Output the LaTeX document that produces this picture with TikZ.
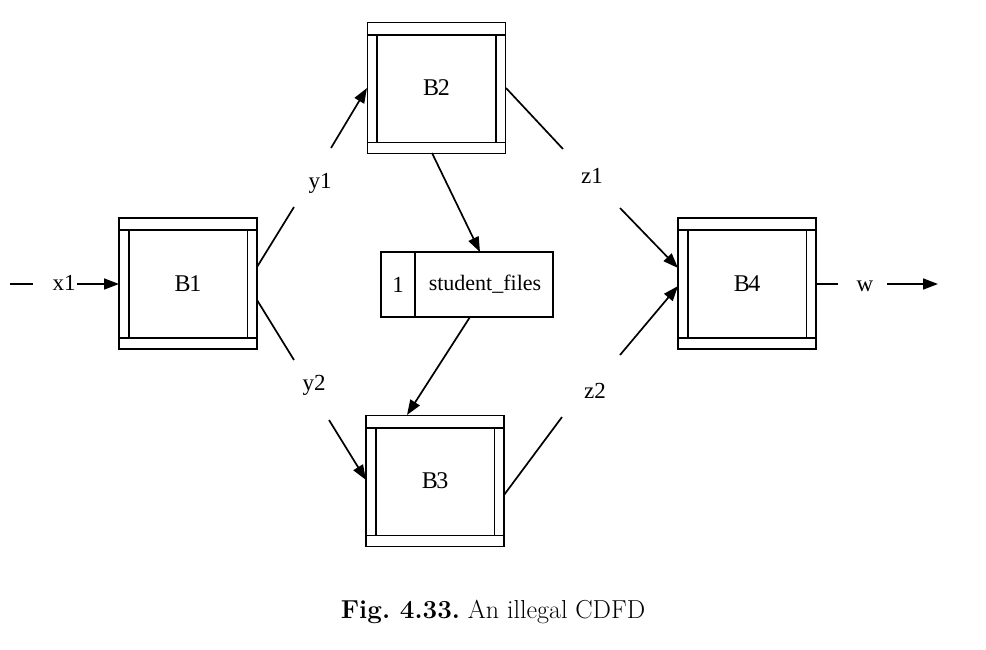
\documentclass[tikz,border=0pt]{standalone}
\usepackage{fontspec}
\newfontfamily\tms{Liberation Serif}
\usetikzlibrary{arrows.meta,calc}
\tikzset{
  lw/.style={line width=1.7pt},
  lbl/.style={font=\tms\fontsize{23}{27}\selectfont, inner sep=0pt, anchor=base},
  procbox/.style={draw, lw, minimum width=138pt, minimum height=131pt, inner sep=0pt, font=\tms\fontsize{24}{28}\selectfont},
  storebox/.style={draw, lw, minimum width=172pt, minimum height=65pt, inner sep=0pt},
  conn/.style={lw},
  arr/.style={lw, -{Triangle[length=15pt,width=11pt]}},
}
\newcommand\cdfdbox[3]{%
  \node[procbox] (#1) at (#2) {#3};
  \draw[lw] ($(#1.north west)+(0,13)$) -- ($(#1.north east)+(0,13)$);
  \draw[lw] ($(#1.south west)+(0,-12)$) -- ($(#1.south east)+(0,-12)$);
  \draw[lw] ($(#1.north west)+(10.5,13)$) -- ($(#1.south west)+(10.5,-12)$);
  \draw[lw] ($(#1.north east)+(-10.5,13)$) -- ($(#1.south east)+(-10.5,-12)$);
}
\begin{document}
\begin{tikzpicture}[x=1pt,y=-1pt]
\useasboundingbox (0,0) rectangle (986,649);

\cdfdbox{B1}{188,283.5}{B\kern-1.5pt 1}
\cdfdbox{B2}{436.5,88}{B\kern-1.5pt 2}
\cdfdbox{B3}{435,481}{B\kern-1.5pt 3}
\cdfdbox{B4}{747,283.5}{B\kern-1.5pt 4}

% data store
\node[storebox] (store) at (467,284.5) {};
\coordinate (divtop) at (415,252);
\coordinate (divbot) at (415,317);
\draw[conn] (divtop) -- (divbot);
\node[lbl, anchor=center] (storenum) at (398,284.5) {1};
\node[lbl, anchor=center, font=\tms\fontsize{22}{26}\selectfont] (storename) at (485,284.5) {student\_files};

% labels
\node[lbl] (x1) at (64,290) {x1};
\node[lbl] (y1) at (320,188) {y1};
\node[lbl] (y2) at (314,390) {y2};
\node[lbl] (z1) at (592,183) {z1};
\node[lbl] (z2) at (595,398) {z2};
\node[lbl] (w) at (865,291) {w};

% coordinates for free ends
\coordinate (x1s) at (10,284);
\coordinate (x1e) at (33,284);
\coordinate (x1a) at (77,284);
\coordinate (B1in) at (119,284);

\coordinate (B1y1) at (257,267);
\coordinate (y1a) at (294,207);
\coordinate (y1b) at (331,148);
\coordinate (B2y1) at (367,88);

\coordinate (B1y2) at (257,300);
\coordinate (y2a) at (294,360);
\coordinate (y2b) at (329,420);
\coordinate (B3y2) at (366,480);

\coordinate (B2z1) at (506,88);
\coordinate (z1a) at (563,149);
\coordinate (z1b) at (620,208);
\coordinate (B4z1) at (678,268);

\coordinate (B3z2) at (504,495);
\coordinate (z2a) at (562,417);
\coordinate (z2b) at (620,355);
\coordinate (B4z2) at (678,286);

\coordinate (B4out) at (816,284);
\coordinate (wa) at (838,284);
\coordinate (wb) at (887,284);
\coordinate (wend) at (938,284);

\coordinate (B2bot) at (432,153);
\coordinate (storetop) at (480,252);
\coordinate (storebot) at (470,317);
\coordinate (B3top) at (407,415);

% connectors
\draw[conn] (x1s) -- (x1e);
\draw[arr] (x1a) -- (B1in);

\draw[conn] (B1y1) -- (y1a);
\draw[arr] (y1b) -- (B2y1);

\draw[conn] (B1y2) -- (y2a);
\draw[arr] (y2b) -- (B3y2);

\draw[conn] (B2z1) -- (z1a);
\draw[arr] (z1b) -- (B4z1);

\draw[conn] (B3z2) -- (z2a);
\draw[arr] (z2b) -- (B4z2);

\draw[conn] (B4out) -- (wa);
\draw[arr] (wb) -- (wend);

\draw[arr] (B2bot) -- (storetop);
\draw[arr] (storebot) -- (B3top);

% caption
\node[inner sep=0pt, anchor=base, font=\fontsize{26}{31}\selectfont] (caption) at (493,618) {\frenchspacing\textbf{Fig. 4.33.} An illegal CDFD};
\end{tikzpicture}
\end{document}
